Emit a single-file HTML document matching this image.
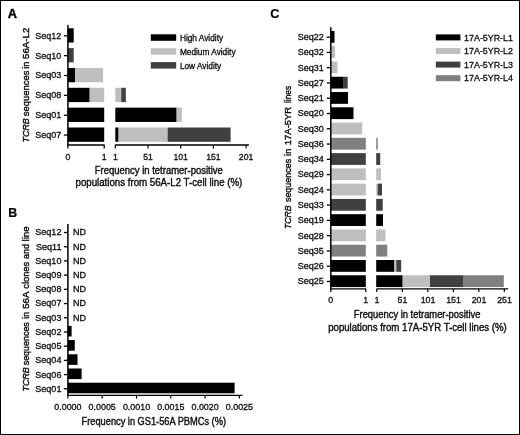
<!DOCTYPE html>
<html><head><meta charset="utf-8"><title>Figure</title>
<style>
html,body{margin:0;padding:0;background:#fff;}
body{width:520px;height:435px;overflow:hidden;}
svg{display:block;font-family:"Liberation Sans",sans-serif;filter:grayscale(1);}
</style></head><body>
<svg width="520" height="435" viewBox="0 0 520 435">
<defs><filter id="soft" x="0" y="0" width="520" height="435" filterUnits="userSpaceOnUse"><feGaussianBlur stdDeviation="0.35"/></filter></defs>
<rect x="0" y="0" width="520" height="435" fill="#fff"/>
<rect x="0.5" y="0.5" width="519" height="434" fill="none" stroke="#000" stroke-width="1"/>
<g filter="url(#soft)">
<text x="7.80" y="18.20" font-size="12.8" text-anchor="start" font-weight="bold" font-style="normal" fill="#000" stroke="#000" stroke-width="0.4">A</text>
<text x="8.20" y="217.00" font-size="12.4" text-anchor="start" font-weight="bold" font-style="normal" fill="#000" stroke="#000" stroke-width="0.2">B</text>
<text x="270.30" y="18.40" font-size="12.6" text-anchor="start" font-weight="bold" font-style="normal" fill="#000" stroke="#000" stroke-width="0.2">C</text>
<rect x="67.90" y="28.25" width="5.81" height="14.30" fill="#000000"/>
<line x1="63.90" y1="35.80" x2="67.90" y2="35.80" stroke="#000" stroke-width="1.3"/>
<text x="61.20" y="38.70" font-size="9.0" text-anchor="end" font-weight="normal" font-style="normal" fill="#111" stroke="#111" stroke-width="0.32">Seq12</text>
<rect x="67.90" y="48.10" width="5.81" height="14.30" fill="#404040"/>
<line x1="63.90" y1="55.65" x2="67.90" y2="55.65" stroke="#000" stroke-width="1.3"/>
<text x="61.20" y="58.55" font-size="9.0" text-anchor="end" font-weight="normal" font-style="normal" fill="#111" stroke="#111" stroke-width="0.32">Seq10</text>
<rect x="67.90" y="67.95" width="7.26" height="14.30" fill="#000000"/>
<rect x="75.16" y="67.95" width="27.95" height="14.30" fill="#bfbfbf"/>
<line x1="63.90" y1="75.50" x2="67.90" y2="75.50" stroke="#000" stroke-width="1.3"/>
<text x="61.20" y="78.40" font-size="9.0" text-anchor="end" font-weight="normal" font-style="normal" fill="#111" stroke="#111" stroke-width="0.32">Seq03</text>
<rect x="67.90" y="87.80" width="21.78" height="14.30" fill="#000000"/>
<rect x="89.68" y="87.80" width="14.52" height="14.30" fill="#bfbfbf"/>
<rect x="115.30" y="87.80" width="5.95" height="14.30" fill="#bfbfbf"/>
<rect x="121.25" y="87.80" width="4.58" height="14.30" fill="#404040"/>
<line x1="63.90" y1="95.35" x2="67.90" y2="95.35" stroke="#000" stroke-width="1.3"/>
<text x="61.20" y="98.25" font-size="9.0" text-anchor="end" font-weight="normal" font-style="normal" fill="#111" stroke="#111" stroke-width="0.32">Seq08</text>
<rect x="67.90" y="107.65" width="36.30" height="14.30" fill="#000000"/>
<rect x="115.30" y="107.65" width="61.35" height="14.30" fill="#000000"/>
<rect x="176.65" y="107.65" width="5.23" height="14.30" fill="#bfbfbf"/>
<line x1="63.90" y1="115.20" x2="67.90" y2="115.20" stroke="#000" stroke-width="1.3"/>
<text x="61.20" y="118.10" font-size="9.0" text-anchor="end" font-weight="normal" font-style="normal" fill="#111" stroke="#111" stroke-width="0.32">Seq01</text>
<rect x="67.90" y="127.50" width="36.30" height="14.30" fill="#000000"/>
<rect x="115.30" y="127.50" width="3.27" height="14.30" fill="#000000"/>
<rect x="118.57" y="127.50" width="49.05" height="14.30" fill="#bfbfbf"/>
<rect x="167.62" y="127.50" width="62.98" height="14.30" fill="#404040"/>
<line x1="63.90" y1="135.05" x2="67.90" y2="135.05" stroke="#000" stroke-width="1.3"/>
<text x="61.20" y="137.95" font-size="9.0" text-anchor="end" font-weight="normal" font-style="normal" fill="#111" stroke="#111" stroke-width="0.32">Seq07</text>
<line x1="67.90" y1="25.00" x2="67.90" y2="145.70" stroke="#000" stroke-width="1.5"/>
<line x1="67.15" y1="145.00" x2="104.60" y2="145.00" stroke="#000" stroke-width="1.4"/>
<line x1="115.00" y1="145.00" x2="248.90" y2="145.00" stroke="#000" stroke-width="1.4"/>
<line x1="67.90" y1="145.00" x2="67.90" y2="148.40" stroke="#000" stroke-width="1.2"/>
<line x1="104.20" y1="145.00" x2="104.20" y2="148.40" stroke="#000" stroke-width="1.2"/>
<line x1="115.30" y1="145.00" x2="115.30" y2="148.40" stroke="#000" stroke-width="1.2"/>
<line x1="148.00" y1="145.00" x2="148.00" y2="148.40" stroke="#000" stroke-width="1.2"/>
<line x1="180.70" y1="145.00" x2="180.70" y2="148.40" stroke="#000" stroke-width="1.2"/>
<line x1="213.40" y1="145.00" x2="213.40" y2="148.40" stroke="#000" stroke-width="1.2"/>
<line x1="246.10" y1="145.00" x2="246.10" y2="148.40" stroke="#000" stroke-width="1.2"/>
<text x="67.90" y="159.60" font-size="8.7" text-anchor="middle" font-weight="normal" font-style="normal" fill="#111" stroke="#111" stroke-width="0.32">0</text>
<text x="104.20" y="159.60" font-size="8.7" text-anchor="middle" font-weight="normal" font-style="normal" fill="#111" stroke="#111" stroke-width="0.32">1</text>
<text x="115.30" y="159.60" font-size="8.7" text-anchor="middle" font-weight="normal" font-style="normal" fill="#111" stroke="#111" stroke-width="0.32">1</text>
<text x="148.00" y="159.60" font-size="8.7" text-anchor="middle" font-weight="normal" font-style="normal" fill="#111" stroke="#111" stroke-width="0.32">51</text>
<text x="180.70" y="159.60" font-size="8.7" text-anchor="middle" font-weight="normal" font-style="normal" fill="#111" stroke="#111" stroke-width="0.32">101</text>
<text x="213.40" y="159.60" font-size="8.7" text-anchor="middle" font-weight="normal" font-style="normal" fill="#111" stroke="#111" stroke-width="0.32">151</text>
<text x="246.10" y="159.60" font-size="8.7" text-anchor="middle" font-weight="normal" font-style="normal" fill="#111" stroke="#111" stroke-width="0.32">201</text>
<text x="94.70" y="173.90" font-size="10" text-anchor="start" textLength="128.20" lengthAdjust="spacingAndGlyphs" font-weight="normal" font-style="normal" fill="#111" stroke="#111" stroke-width="0.4">Frequency in tetramer-positive</text>
<text x="75.50" y="186.30" font-size="10" text-anchor="start" textLength="166.80" lengthAdjust="spacingAndGlyphs" font-weight="normal" font-style="normal" fill="#111" stroke="#111" stroke-width="0.4">populations from 56A-L2 T-cell line (%)</text>
<text transform="translate(28.90 142.40) rotate(-90)" font-size="9.6" textLength="24.20" lengthAdjust="spacingAndGlyphs" fill="#111" stroke="#111" stroke-width="0.4" font-style="italic">TCRB</text>
<text transform="translate(28.90 116.20) rotate(-90)" font-size="9.6" textLength="45.60" lengthAdjust="spacingAndGlyphs" fill="#111" stroke="#111" stroke-width="0.4">sequences</text>
<text transform="translate(28.90 68.80) rotate(-90)" font-size="9.6" textLength="7.20" lengthAdjust="spacingAndGlyphs" fill="#111" stroke="#111" stroke-width="0.4">in</text>
<text transform="translate(28.90 59.00) rotate(-90)" font-size="9.6" textLength="31.30" lengthAdjust="spacingAndGlyphs" fill="#111" stroke="#111" stroke-width="0.4">56A-L2</text>
<rect x="150.80" y="34.30" width="25.40" height="6.50" fill="#000000"/>
<text x="179.90" y="40.70" font-size="8.3" text-anchor="start" font-weight="normal" font-style="normal" fill="#111" stroke="#111" stroke-width="0.32">High Avidity</text>
<rect x="150.80" y="48.20" width="25.40" height="6.50" fill="#bfbfbf"/>
<text x="179.90" y="54.60" font-size="8.3" text-anchor="start" font-weight="normal" font-style="normal" fill="#111" stroke="#111" stroke-width="0.32">Medium Avidity</text>
<rect x="150.80" y="62.10" width="25.40" height="6.50" fill="#404040"/>
<text x="179.90" y="68.50" font-size="8.3" text-anchor="start" font-weight="normal" font-style="normal" fill="#111" stroke="#111" stroke-width="0.32">Low Avidity</text>
<line x1="63.90" y1="232.50" x2="67.90" y2="232.50" stroke="#000" stroke-width="1.3"/>
<text x="61.40" y="235.40" font-size="9.0" text-anchor="end" font-weight="normal" font-style="normal" fill="#111" stroke="#111" stroke-width="0.32">Seq12</text>
<text x="73.00" y="235.40" font-size="9.0" text-anchor="start" font-weight="normal" font-style="normal" fill="#111" stroke="#111" stroke-width="0.32">ND</text>
<line x1="63.90" y1="246.71" x2="67.90" y2="246.71" stroke="#000" stroke-width="1.3"/>
<text x="61.40" y="249.61" font-size="9.0" text-anchor="end" font-weight="normal" font-style="normal" fill="#111" stroke="#111" stroke-width="0.32">Seq11</text>
<text x="73.00" y="249.61" font-size="9.0" text-anchor="start" font-weight="normal" font-style="normal" fill="#111" stroke="#111" stroke-width="0.32">ND</text>
<line x1="63.90" y1="260.92" x2="67.90" y2="260.92" stroke="#000" stroke-width="1.3"/>
<text x="61.40" y="263.82" font-size="9.0" text-anchor="end" font-weight="normal" font-style="normal" fill="#111" stroke="#111" stroke-width="0.32">Seq10</text>
<text x="73.00" y="263.82" font-size="9.0" text-anchor="start" font-weight="normal" font-style="normal" fill="#111" stroke="#111" stroke-width="0.32">ND</text>
<line x1="63.90" y1="275.13" x2="67.90" y2="275.13" stroke="#000" stroke-width="1.3"/>
<text x="61.40" y="278.03" font-size="9.0" text-anchor="end" font-weight="normal" font-style="normal" fill="#111" stroke="#111" stroke-width="0.32">Seq09</text>
<text x="73.00" y="278.03" font-size="9.0" text-anchor="start" font-weight="normal" font-style="normal" fill="#111" stroke="#111" stroke-width="0.32">ND</text>
<line x1="63.90" y1="289.34" x2="67.90" y2="289.34" stroke="#000" stroke-width="1.3"/>
<text x="61.40" y="292.24" font-size="9.0" text-anchor="end" font-weight="normal" font-style="normal" fill="#111" stroke="#111" stroke-width="0.32">Seq08</text>
<text x="73.00" y="292.24" font-size="9.0" text-anchor="start" font-weight="normal" font-style="normal" fill="#111" stroke="#111" stroke-width="0.32">ND</text>
<line x1="63.90" y1="303.55" x2="67.90" y2="303.55" stroke="#000" stroke-width="1.3"/>
<text x="61.40" y="306.45" font-size="9.0" text-anchor="end" font-weight="normal" font-style="normal" fill="#111" stroke="#111" stroke-width="0.32">Seq07</text>
<text x="73.00" y="306.45" font-size="9.0" text-anchor="start" font-weight="normal" font-style="normal" fill="#111" stroke="#111" stroke-width="0.32">ND</text>
<line x1="63.90" y1="317.76" x2="67.90" y2="317.76" stroke="#000" stroke-width="1.3"/>
<text x="61.40" y="320.66" font-size="9.0" text-anchor="end" font-weight="normal" font-style="normal" fill="#111" stroke="#111" stroke-width="0.32">Seq03</text>
<text x="73.00" y="320.66" font-size="9.0" text-anchor="start" font-weight="normal" font-style="normal" fill="#111" stroke="#111" stroke-width="0.32">ND</text>
<line x1="63.90" y1="331.97" x2="67.90" y2="331.97" stroke="#000" stroke-width="1.3"/>
<text x="61.40" y="334.87" font-size="9.0" text-anchor="end" font-weight="normal" font-style="normal" fill="#111" stroke="#111" stroke-width="0.32">Seq02</text>
<rect x="67.90" y="325.87" width="3.70" height="10.60" fill="#000000"/>
<line x1="63.90" y1="346.18" x2="67.90" y2="346.18" stroke="#000" stroke-width="1.3"/>
<text x="61.40" y="349.08" font-size="9.0" text-anchor="end" font-weight="normal" font-style="normal" fill="#111" stroke="#111" stroke-width="0.32">Seq05</text>
<rect x="67.90" y="340.08" width="6.86" height="10.60" fill="#000000"/>
<line x1="63.90" y1="360.39" x2="67.90" y2="360.39" stroke="#000" stroke-width="1.3"/>
<text x="61.40" y="363.29" font-size="9.0" text-anchor="end" font-weight="normal" font-style="normal" fill="#111" stroke="#111" stroke-width="0.32">Seq04</text>
<rect x="67.90" y="354.29" width="9.60" height="10.60" fill="#000000"/>
<line x1="63.90" y1="374.60" x2="67.90" y2="374.60" stroke="#000" stroke-width="1.3"/>
<text x="61.40" y="377.50" font-size="9.0" text-anchor="end" font-weight="normal" font-style="normal" fill="#111" stroke="#111" stroke-width="0.32">Seq06</text>
<rect x="67.90" y="368.50" width="13.72" height="10.60" fill="#000000"/>
<line x1="63.90" y1="388.81" x2="67.90" y2="388.81" stroke="#000" stroke-width="1.3"/>
<text x="61.40" y="391.71" font-size="9.0" text-anchor="end" font-weight="normal" font-style="normal" fill="#111" stroke="#111" stroke-width="0.32">Seq01</text>
<rect x="67.90" y="382.71" width="166.70" height="10.60" fill="#000000"/>
<line x1="67.90" y1="224.00" x2="67.90" y2="396.10" stroke="#000" stroke-width="1.5"/>
<line x1="67.15" y1="395.40" x2="242.40" y2="395.40" stroke="#000" stroke-width="1.4"/>
<line x1="67.90" y1="395.40" x2="67.90" y2="398.60" stroke="#000" stroke-width="1.2"/>
<text x="67.90" y="410.40" font-size="8.9" text-anchor="middle" font-weight="normal" font-style="normal" fill="#111" stroke="#111" stroke-width="0.32">0.0000</text>
<line x1="102.20" y1="395.40" x2="102.20" y2="398.60" stroke="#000" stroke-width="1.2"/>
<text x="102.20" y="410.40" font-size="8.9" text-anchor="middle" font-weight="normal" font-style="normal" fill="#111" stroke="#111" stroke-width="0.32">0.0005</text>
<line x1="136.50" y1="395.40" x2="136.50" y2="398.60" stroke="#000" stroke-width="1.2"/>
<text x="136.50" y="410.40" font-size="8.9" text-anchor="middle" font-weight="normal" font-style="normal" fill="#111" stroke="#111" stroke-width="0.32">0.0010</text>
<line x1="170.80" y1="395.40" x2="170.80" y2="398.60" stroke="#000" stroke-width="1.2"/>
<text x="170.80" y="410.40" font-size="8.9" text-anchor="middle" font-weight="normal" font-style="normal" fill="#111" stroke="#111" stroke-width="0.32">0.0015</text>
<line x1="205.10" y1="395.40" x2="205.10" y2="398.60" stroke="#000" stroke-width="1.2"/>
<text x="205.10" y="410.40" font-size="8.9" text-anchor="middle" font-weight="normal" font-style="normal" fill="#111" stroke="#111" stroke-width="0.32">0.0020</text>
<line x1="239.40" y1="395.40" x2="239.40" y2="398.60" stroke="#000" stroke-width="1.2"/>
<text x="239.40" y="410.40" font-size="8.9" text-anchor="middle" font-weight="normal" font-style="normal" fill="#111" stroke="#111" stroke-width="0.32">0.0025</text>
<text x="81.60" y="425.10" font-size="10" text-anchor="start" textLength="144.40" lengthAdjust="spacingAndGlyphs" font-weight="normal" font-style="normal" fill="#111" stroke="#111" stroke-width="0.4">Frequency in GS1-56A PBMCs (%)</text>
<text transform="translate(28.90 391.40) rotate(-90)" font-size="9.6" textLength="24.20" lengthAdjust="spacingAndGlyphs" fill="#111" stroke="#111" stroke-width="0.4" font-style="italic">TCRB</text>
<text transform="translate(28.90 365.30) rotate(-90)" font-size="9.6" textLength="43.10" lengthAdjust="spacingAndGlyphs" fill="#111" stroke="#111" stroke-width="0.4">sequences</text>
<text transform="translate(28.90 319.00) rotate(-90)" font-size="9.6" textLength="7.30" lengthAdjust="spacingAndGlyphs" fill="#111" stroke="#111" stroke-width="0.4">in</text>
<text transform="translate(28.90 308.80) rotate(-90)" font-size="9.6" textLength="17.20" lengthAdjust="spacingAndGlyphs" fill="#111" stroke="#111" stroke-width="0.4">56A</text>
<text transform="translate(28.90 288.70) rotate(-90)" font-size="9.6" textLength="26.90" lengthAdjust="spacingAndGlyphs" fill="#111" stroke="#111" stroke-width="0.4">clones</text>
<text transform="translate(28.90 259.00) rotate(-90)" font-size="9.6" textLength="15.00" lengthAdjust="spacingAndGlyphs" fill="#111" stroke="#111" stroke-width="0.4">and</text>
<text transform="translate(28.90 241.50) rotate(-90)" font-size="9.6" textLength="15.10" lengthAdjust="spacingAndGlyphs" fill="#111" stroke="#111" stroke-width="0.4">line</text>
<rect x="330.80" y="30.95" width="3.70" height="11.80" fill="#000000"/>
<line x1="326.80" y1="37.15" x2="330.80" y2="37.15" stroke="#000" stroke-width="1.3"/>
<text x="323.70" y="40.05" font-size="9.0" text-anchor="end" font-weight="normal" font-style="normal" fill="#111" stroke="#111" stroke-width="0.32">Seq22</text>
<rect x="330.80" y="46.22" width="4.20" height="11.80" fill="#bfbfbf"/>
<line x1="326.80" y1="52.42" x2="330.80" y2="52.42" stroke="#000" stroke-width="1.3"/>
<text x="323.70" y="55.32" font-size="9.0" text-anchor="end" font-weight="normal" font-style="normal" fill="#111" stroke="#111" stroke-width="0.32">Seq32</text>
<rect x="330.80" y="61.49" width="6.70" height="11.80" fill="#bfbfbf"/>
<line x1="326.80" y1="67.69" x2="330.80" y2="67.69" stroke="#000" stroke-width="1.3"/>
<text x="323.70" y="70.59" font-size="9.0" text-anchor="end" font-weight="normal" font-style="normal" fill="#111" stroke="#111" stroke-width="0.32">Seq31</text>
<rect x="330.80" y="76.76" width="12.20" height="11.80" fill="#000000"/>
<rect x="343.00" y="76.76" width="4.70" height="11.80" fill="#404040"/>
<line x1="326.80" y1="82.96" x2="330.80" y2="82.96" stroke="#000" stroke-width="1.3"/>
<text x="323.70" y="85.86" font-size="9.0" text-anchor="end" font-weight="normal" font-style="normal" fill="#111" stroke="#111" stroke-width="0.32">Seq27</text>
<rect x="330.80" y="92.03" width="17.20" height="11.80" fill="#000000"/>
<line x1="326.80" y1="98.23" x2="330.80" y2="98.23" stroke="#000" stroke-width="1.3"/>
<text x="323.70" y="101.13" font-size="9.0" text-anchor="end" font-weight="normal" font-style="normal" fill="#111" stroke="#111" stroke-width="0.32">Seq21</text>
<rect x="330.80" y="107.30" width="22.70" height="11.80" fill="#000000"/>
<line x1="326.80" y1="113.50" x2="330.80" y2="113.50" stroke="#000" stroke-width="1.3"/>
<text x="323.70" y="116.40" font-size="9.0" text-anchor="end" font-weight="normal" font-style="normal" fill="#111" stroke="#111" stroke-width="0.32">Seq20</text>
<rect x="330.80" y="122.57" width="31.40" height="11.80" fill="#bfbfbf"/>
<line x1="326.80" y1="128.77" x2="330.80" y2="128.77" stroke="#000" stroke-width="1.3"/>
<text x="323.70" y="131.67" font-size="9.0" text-anchor="end" font-weight="normal" font-style="normal" fill="#111" stroke="#111" stroke-width="0.32">Seq30</text>
<rect x="330.80" y="137.84" width="35.00" height="11.80" fill="#808080"/>
<rect x="376.20" y="137.84" width="1.50" height="11.80" fill="#808080"/>
<line x1="326.80" y1="144.04" x2="330.80" y2="144.04" stroke="#000" stroke-width="1.3"/>
<text x="323.70" y="146.94" font-size="9.0" text-anchor="end" font-weight="normal" font-style="normal" fill="#111" stroke="#111" stroke-width="0.32">Seq36</text>
<rect x="330.80" y="153.11" width="35.00" height="11.80" fill="#404040"/>
<rect x="376.20" y="153.11" width="4.00" height="11.80" fill="#404040"/>
<line x1="326.80" y1="159.31" x2="330.80" y2="159.31" stroke="#000" stroke-width="1.3"/>
<text x="323.70" y="162.21" font-size="9.0" text-anchor="end" font-weight="normal" font-style="normal" fill="#111" stroke="#111" stroke-width="0.32">Seq34</text>
<rect x="330.80" y="168.38" width="35.00" height="11.80" fill="#bfbfbf"/>
<rect x="376.20" y="168.38" width="4.80" height="11.80" fill="#bfbfbf"/>
<line x1="326.80" y1="174.58" x2="330.80" y2="174.58" stroke="#000" stroke-width="1.3"/>
<text x="323.70" y="177.48" font-size="9.0" text-anchor="end" font-weight="normal" font-style="normal" fill="#111" stroke="#111" stroke-width="0.32">Seq29</text>
<rect x="330.80" y="183.65" width="35.00" height="11.80" fill="#bfbfbf"/>
<rect x="376.20" y="183.65" width="1.50" height="11.80" fill="#bfbfbf"/>
<rect x="377.70" y="183.65" width="4.30" height="11.80" fill="#404040"/>
<line x1="326.80" y1="189.85" x2="330.80" y2="189.85" stroke="#000" stroke-width="1.3"/>
<text x="323.70" y="192.75" font-size="9.0" text-anchor="end" font-weight="normal" font-style="normal" fill="#111" stroke="#111" stroke-width="0.32">Seq24</text>
<rect x="330.80" y="198.92" width="35.00" height="11.80" fill="#404040"/>
<rect x="376.20" y="198.92" width="6.50" height="11.80" fill="#404040"/>
<line x1="326.80" y1="205.12" x2="330.80" y2="205.12" stroke="#000" stroke-width="1.3"/>
<text x="323.70" y="208.02" font-size="9.0" text-anchor="end" font-weight="normal" font-style="normal" fill="#111" stroke="#111" stroke-width="0.32">Seq33</text>
<rect x="330.80" y="214.19" width="35.00" height="11.80" fill="#000000"/>
<rect x="376.20" y="214.19" width="6.80" height="11.80" fill="#000000"/>
<line x1="326.80" y1="220.39" x2="330.80" y2="220.39" stroke="#000" stroke-width="1.3"/>
<text x="323.70" y="223.29" font-size="9.0" text-anchor="end" font-weight="normal" font-style="normal" fill="#111" stroke="#111" stroke-width="0.32">Seq19</text>
<rect x="330.80" y="229.46" width="35.00" height="11.80" fill="#bfbfbf"/>
<rect x="376.20" y="229.46" width="9.20" height="11.80" fill="#bfbfbf"/>
<line x1="326.80" y1="235.66" x2="330.80" y2="235.66" stroke="#000" stroke-width="1.3"/>
<text x="323.70" y="238.56" font-size="9.0" text-anchor="end" font-weight="normal" font-style="normal" fill="#111" stroke="#111" stroke-width="0.32">Seq28</text>
<rect x="330.80" y="244.73" width="35.00" height="11.80" fill="#808080"/>
<rect x="376.20" y="244.73" width="11.10" height="11.80" fill="#808080"/>
<line x1="326.80" y1="250.93" x2="330.80" y2="250.93" stroke="#000" stroke-width="1.3"/>
<text x="323.70" y="253.83" font-size="9.0" text-anchor="end" font-weight="normal" font-style="normal" fill="#111" stroke="#111" stroke-width="0.32">Seq35</text>
<rect x="330.80" y="260.00" width="35.00" height="11.80" fill="#000000"/>
<rect x="376.20" y="260.00" width="18.20" height="11.80" fill="#000000"/>
<rect x="394.40" y="260.00" width="1.90" height="11.80" fill="#bfbfbf"/>
<rect x="396.30" y="260.00" width="4.90" height="11.80" fill="#404040"/>
<line x1="326.80" y1="266.20" x2="330.80" y2="266.20" stroke="#000" stroke-width="1.3"/>
<text x="323.70" y="269.10" font-size="9.0" text-anchor="end" font-weight="normal" font-style="normal" fill="#111" stroke="#111" stroke-width="0.32">Seq26</text>
<rect x="330.80" y="275.27" width="35.00" height="11.80" fill="#000000"/>
<rect x="376.20" y="275.27" width="26.50" height="11.80" fill="#000000"/>
<rect x="402.70" y="275.27" width="27.30" height="11.80" fill="#bfbfbf"/>
<rect x="430.00" y="275.27" width="33.00" height="11.80" fill="#404040"/>
<rect x="463.00" y="275.27" width="40.80" height="11.80" fill="#808080"/>
<line x1="326.80" y1="281.47" x2="330.80" y2="281.47" stroke="#000" stroke-width="1.3"/>
<text x="323.70" y="284.37" font-size="9.0" text-anchor="end" font-weight="normal" font-style="normal" fill="#111" stroke="#111" stroke-width="0.32">Seq25</text>
<line x1="330.80" y1="27.20" x2="330.80" y2="289.60" stroke="#000" stroke-width="1.5"/>
<line x1="330.05" y1="288.90" x2="366.20" y2="288.90" stroke="#000" stroke-width="1.4"/>
<line x1="376.40" y1="288.90" x2="508.20" y2="288.90" stroke="#000" stroke-width="1.4"/>
<line x1="330.80" y1="288.90" x2="330.80" y2="292.10" stroke="#000" stroke-width="1.2"/>
<line x1="365.80" y1="288.90" x2="365.80" y2="292.10" stroke="#000" stroke-width="1.2"/>
<line x1="376.80" y1="288.90" x2="376.80" y2="292.10" stroke="#000" stroke-width="1.2"/>
<line x1="402.30" y1="288.90" x2="402.30" y2="292.10" stroke="#000" stroke-width="1.2"/>
<line x1="427.80" y1="288.90" x2="427.80" y2="292.10" stroke="#000" stroke-width="1.2"/>
<line x1="453.30" y1="288.90" x2="453.30" y2="292.10" stroke="#000" stroke-width="1.2"/>
<line x1="478.80" y1="288.90" x2="478.80" y2="292.10" stroke="#000" stroke-width="1.2"/>
<line x1="504.30" y1="288.90" x2="504.30" y2="292.10" stroke="#000" stroke-width="1.2"/>
<text x="330.80" y="303.00" font-size="8.8" text-anchor="middle" font-weight="normal" font-style="normal" fill="#111" stroke="#111" stroke-width="0.32">0</text>
<text x="365.80" y="303.00" font-size="8.8" text-anchor="middle" font-weight="normal" font-style="normal" fill="#111" stroke="#111" stroke-width="0.32">1</text>
<text x="377.00" y="303.00" font-size="8.8" text-anchor="middle" font-weight="normal" font-style="normal" fill="#111" stroke="#111" stroke-width="0.32">1</text>
<text x="402.50" y="303.00" font-size="8.8" text-anchor="middle" font-weight="normal" font-style="normal" fill="#111" stroke="#111" stroke-width="0.32">51</text>
<text x="428.00" y="303.00" font-size="8.8" text-anchor="middle" font-weight="normal" font-style="normal" fill="#111" stroke="#111" stroke-width="0.32">101</text>
<text x="453.50" y="303.00" font-size="8.8" text-anchor="middle" font-weight="normal" font-style="normal" fill="#111" stroke="#111" stroke-width="0.32">151</text>
<text x="479.00" y="303.00" font-size="8.8" text-anchor="middle" font-weight="normal" font-style="normal" fill="#111" stroke="#111" stroke-width="0.32">201</text>
<text x="504.50" y="303.00" font-size="8.8" text-anchor="middle" font-weight="normal" font-style="normal" fill="#111" stroke="#111" stroke-width="0.32">251</text>
<text x="353.80" y="317.70" font-size="10" text-anchor="start" textLength="126.60" lengthAdjust="spacingAndGlyphs" font-weight="normal" font-style="normal" fill="#111" stroke="#111" stroke-width="0.4">Frequency in tetramer-positive</text>
<text x="328.20" y="331.10" font-size="10" text-anchor="start" textLength="178.60" lengthAdjust="spacingAndGlyphs" font-weight="normal" font-style="normal" fill="#111" stroke="#111" stroke-width="0.4">populations from 17A-5YR T-cell lines (%)</text>
<rect x="435.80" y="34.40" width="24.60" height="6.00" fill="#000000"/>
<text x="464.10" y="40.60" font-size="8.9" text-anchor="start" font-weight="normal" font-style="normal" fill="#111" stroke="#111" stroke-width="0.32">17A-5YR-L1</text>
<rect x="435.80" y="48.00" width="24.60" height="6.00" fill="#bfbfbf"/>
<text x="464.10" y="54.20" font-size="8.9" text-anchor="start" font-weight="normal" font-style="normal" fill="#111" stroke="#111" stroke-width="0.32">17A-5YR-L2</text>
<rect x="435.80" y="61.60" width="24.60" height="6.00" fill="#404040"/>
<text x="464.10" y="67.80" font-size="8.9" text-anchor="start" font-weight="normal" font-style="normal" fill="#111" stroke="#111" stroke-width="0.32">17A-5YR-L3</text>
<rect x="435.80" y="75.20" width="24.60" height="6.00" fill="#808080"/>
<text x="464.10" y="81.40" font-size="8.9" text-anchor="start" font-weight="normal" font-style="normal" fill="#111" stroke="#111" stroke-width="0.32">17A-5YR-L4</text>
<text transform="translate(291.00 229.00) rotate(-90)" font-size="9.8" textLength="23.60" lengthAdjust="spacingAndGlyphs" fill="#111" stroke="#111" stroke-width="0.4" font-style="italic">TCRB</text>
<text transform="translate(291.00 202.10) rotate(-90)" font-size="9.8" textLength="43.30" lengthAdjust="spacingAndGlyphs" fill="#111" stroke="#111" stroke-width="0.4">sequences</text>
<text transform="translate(291.00 156.20) rotate(-90)" font-size="9.8" textLength="7.60" lengthAdjust="spacingAndGlyphs" fill="#111" stroke="#111" stroke-width="0.4">in</text>
<text transform="translate(291.00 145.20) rotate(-90)" font-size="9.8" textLength="38.40" lengthAdjust="spacingAndGlyphs" fill="#111" stroke="#111" stroke-width="0.4">17A-5YR</text>
<text transform="translate(291.00 103.10) rotate(-90)" font-size="9.8" textLength="17.40" lengthAdjust="spacingAndGlyphs" fill="#111" stroke="#111" stroke-width="0.4">lines</text>
</g>
</svg>
</body></html>
